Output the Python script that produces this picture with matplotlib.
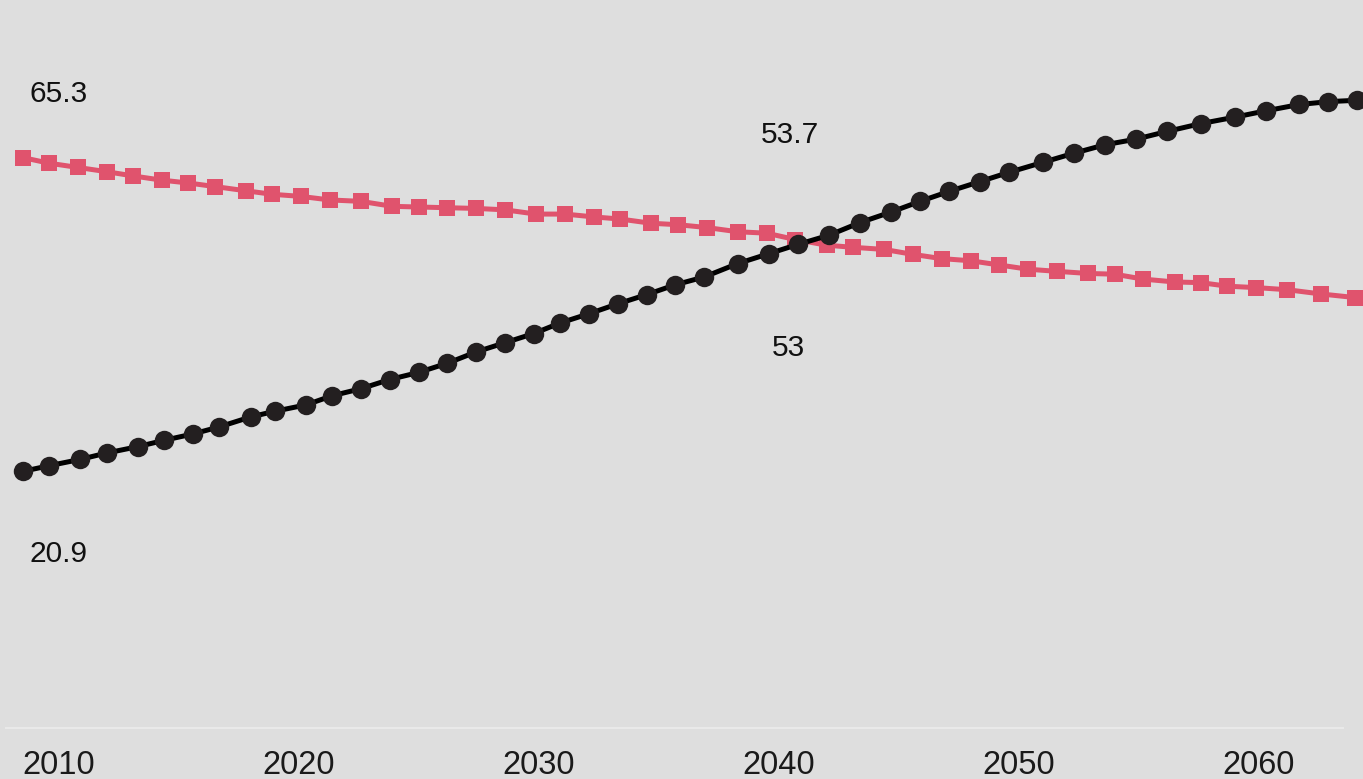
import matplotlib
matplotlib.use("Agg")
import matplotlib.pyplot as plt

# ---- data ----
black_years = [2008.5, 2009.6, 2010.9, 2012.0, 2013.3, 2014.4, 2015.6, 2016.7, 2018.0, 2019.0,
               2020.3, 2021.4, 2022.6, 2023.8, 2025.0, 2026.2, 2027.4, 2028.6, 2029.8, 2030.9,
               2032.1, 2033.3, 2034.5, 2035.7, 2036.9, 2038.3, 2039.6, 2040.8, 2042.1, 2043.4,
               2044.7, 2045.9, 2047.1, 2048.4, 2049.6, 2051.0, 2052.3, 2053.6, 2054.9, 2056.2,
               2057.6, 2059.0, 2060.3, 2061.7, 2062.9, 2064.1]
black_values = [20.9, 21.7, 22.6, 23.5, 24.4, 25.3, 26.2, 27.2, 28.6, 29.4,
                30.3, 31.6, 32.6, 33.9, 34.9, 36.2, 37.8, 39.1, 40.4, 41.9,
                43.2, 44.6, 45.9, 47.3, 48.4, 50.3, 51.7, 53.0, 54.3, 56.1,
                57.6, 59.1, 60.5, 61.9, 63.2, 64.6, 65.9, 67.1, 67.9, 69.0,
                70.1, 71.0, 71.9, 72.8, 73.2, 73.4]

red_years = [2008.5, 2009.6, 2010.8, 2012.0, 2013.1, 2014.3, 2015.4, 2016.5, 2017.8, 2018.9,
             2020.1, 2021.3, 2022.6, 2023.9, 2025.0, 2026.2, 2027.4, 2028.6, 2029.9, 2031.1,
             2032.3, 2033.4, 2034.7, 2035.8, 2037.0, 2038.3, 2039.5, 2040.7, 2042.0, 2043.1,
             2044.4, 2045.6, 2046.8, 2048.0, 2049.2, 2050.4, 2051.6, 2052.9, 2054.0, 2055.2,
             2056.5, 2057.6, 2058.7, 2059.9, 2061.2, 2062.6, 2064.0]
red_values = [65.3, 64.5, 63.9, 63.3, 62.7, 62.1, 61.7, 61.2, 60.6, 60.1,
              59.8, 59.3, 59.1, 58.4, 58.3, 58.2, 58.1, 57.9, 57.3, 57.3,
              56.9, 56.6, 56.0, 55.8, 55.4, 54.8, 54.6, 53.7, 52.9, 52.6,
              52.3, 51.6, 51.0, 50.7, 50.1, 49.5, 49.2, 48.9, 48.8, 48.1,
              47.7, 47.6, 47.1, 46.9, 46.6, 46.0, 45.5]

tick_years = [2010, 2020, 2030, 2040, 2050, 2060]

# which points get a value label: (series, index, x offset px, y offset px)
labels = [
    ("red", 0, 36, 56),
    ("black", 0, 36, -91),
    ("red", 27, -5, 97),
    ("black", 27, -9, -112),
    ("black", -1, -45, 57),
    ("red", -1, -43, -81),
]

BG = "#dedede"
RED = "#e0536d"
DARK = "#231f20"

plt.rcParams["font.family"] = ["Liberation Sans", "DejaVu Sans"]

fig = plt.figure(figsize=(13.63, 7.79), dpi=100, facecolor=BG)
ax = fig.add_axes([6 / 1363, (779 - 727.5) / 779, 1337 / 1363, 727.5 / 779])
ax.set_facecolor(BG)

ax.plot(red_years, red_values, color=RED, linewidth=3.6, marker="s", markersize=12,
        markerfacecolor=RED, markeredgewidth=0, clip_on=False, zorder=2)
ax.plot(black_years, black_values, color="black", linewidth=3.6, marker="o", markersize=14,
        markerfacecolor=DARK, markeredgewidth=0, clip_on=False, zorder=3)

series = {"red": (red_years, red_values), "black": (black_years, black_values)}
for name, idx, dx, dy in labels:
    xs, ys = series[name]
    ax.annotate(f"{ys[idx]:g}", (xs[idx], ys[idx]), xytext=(dx, dy),
                textcoords="offset pixels", ha="center", va="baseline",
                fontsize=21.5, color="#111111")

ax.set_xlim(2007.8125, 2063.52)
ax.set_ylim(-15.32, 87.58)

ax.set_xticks(tick_years)
ax.set_xticklabels([str(y) for y in tick_years])
ax.tick_params(axis="x", length=0, pad=16, labelsize=23.5, labelcolor="#1a1a1a")
ax.set_yticks([])

for side in ["top", "left", "right"]:
    ax.spines[side].set_visible(False)
ax.spines["bottom"].set_color("#e9e9e9")
ax.spines["bottom"].set_linewidth(1.5)

fig.savefig("out.png", dpi=100, facecolor=BG)
